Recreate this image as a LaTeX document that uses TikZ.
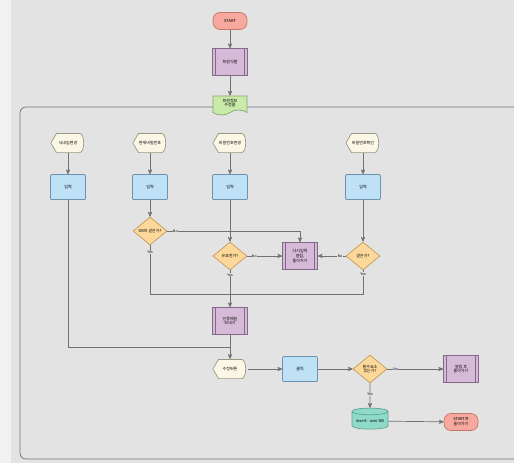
\documentclass[tikz,border=0pt]{standalone}
\usepackage{fontspec}
\setmainfont{Noto Sans CJK KR}
\usepackage{tikz}
\usetikzlibrary{positioning,arrows,shapes.geometric,shapes.symbols}
\definecolor{bgc}{HTML}{E3E3E3}
\definecolor{stripc}{HTML}{F1F1F1}
\definecolor{linec}{HTML}{727272}
\definecolor{termfill}{HTML}{F8A99F}
\definecolor{termline}{HTML}{C4766C}
\definecolor{procfill}{HTML}{D6BBD8}
\definecolor{procline}{HTML}{86698A}
\definecolor{docfill}{HTML}{C9EAA9}
\definecolor{docline}{HTML}{86A66C}
\definecolor{dispfill}{HTML}{FBF7E7}
\definecolor{displine}{HTML}{9C9680}
\definecolor{infill}{HTML}{BEE1F6}
\definecolor{inline}{HTML}{6D93B0}
\definecolor{decfill}{HTML}{FCD89A}
\definecolor{decline}{HTML}{C49B5C}
\definecolor{dbfill}{HTML}{8FDAC8}
\definecolor{dbline}{HTML}{5CA593}

\begin{document}
\begin{tikzpicture}[x=1pt,y=-1pt,font=\fontsize{4}{4.8}\selectfont]
    \tikzstyle{line}=[draw=linec,line width=0.7pt]
    \tikzstyle{arr}=[line,-stealth']
    \tikzstyle{term}=[draw=termline,fill=termfill,line width=0.7pt,rounded corners=7pt,minimum width=34pt,minimum height=17pt,inner sep=1pt,align=center]
    \tikzstyle{proc}=[draw=procline,fill=procfill,line width=0.7pt,minimum width=35pt,minimum height=27pt,inner sep=1pt,align=center,
        path picture={\draw[procline,line width=0.6pt]
            ([xshift=3pt]path picture bounding box.north west) -- ([xshift=3pt]path picture bounding box.south west)
            ([xshift=-3pt]path picture bounding box.north east) -- ([xshift=-3pt]path picture bounding box.south east);}]
    \tikzstyle{doc}=[tape,tape bend top=none,draw=docline,fill=docfill,line width=0.7pt,minimum width=34pt,minimum height=19pt,inner sep=1pt,align=center]
    \tikzstyle{disp}=[minimum width=35pt,minimum height=20pt,inner sep=0pt,align=center,
        path picture={\draw[displine,fill=dispfill,line width=0.7pt]
            ([xshift=0.4pt]path picture bounding box.west)
            -- ([xshift=6pt,yshift=-0.4pt]path picture bounding box.north west)
            -- ([xshift=-6pt,yshift=-0.4pt]path picture bounding box.north east)
            .. controls ([xshift=-0.4pt,yshift=-0.4pt]path picture bounding box.north east) and ([xshift=-0.4pt,yshift=0.4pt]path picture bounding box.south east) .. ([xshift=-6pt,yshift=0.4pt]path picture bounding box.south east)
            -- ([xshift=6pt,yshift=0.4pt]path picture bounding box.south west) -- cycle;}]
    \tikzstyle{inbox}=[draw=inline,fill=infill,line width=0.7pt,rounded corners=1pt,minimum width=35pt,minimum height=25pt,inner sep=1pt]
    \tikzstyle{dec}=[diamond,aspect=1.25,draw=decline,fill=decfill,line width=0.7pt,minimum width=34pt,minimum height=28pt,inner sep=0pt,align=center]
    \tikzstyle{store}=[cylinder,shape border rotate=90,aspect=0.22,draw=dbline,fill=dbfill,line width=0.7pt,minimum width=36pt,minimum height=21pt,inner sep=1pt]
    \tikzstyle{lbl}=[font=\fontsize{3.5}{4}\selectfont,inner sep=0.4pt,fill=bgc]

    % page and frame
    \useasboundingbox (0,0) rectangle (514,463);
    \fill[bgc] (0,0) rectangle (514,463);
    \fill[stripc] (0,0) rectangle (11,463);
    \draw[line,rounded corners=6pt] (20,107) rectangle (540,459);

    % top
    \node[term] (st) at (230,21) {START};
    \node[proc] (who) at (230,62) {회원식별};
    \node[doc] (form) at (230,103) {회원정보\\수정폼};

    % four fields
    \node[disp] (d1) at (68,143) {닉네임변경};
    \node[disp] (d2) at (150,143) {현재비밀번호};
    \node[disp] (d3) at (230,143) {비밀번호변경};
    \node[disp] (d4) at (363,143) {비밀번호확인};
    \foreach \i in {1,...,4}
        \node[inbox,below=21pt of d\i] (in\i) {입력};

    % checks
    \node[dec] (q1) at (150,231) {DB와 같은가?};
    \node[dec] (q2) at (230,256) {유효한가?};
    \node[dec] (q3) at (363,256) {같은가?};
    \node[proc] (retry) at (300,256) {다시입력\\알림,\\돌아가기};
    \node[proc] (mail) at (230,321) {인증메일\\보내기};
    \coordinate (yl) at (150,294);
    \coordinate (yr) at (363,294);
    \coordinate (join) at (230,347);

    % bottom row
    \node[disp] (btn) at (230,369) {수정버튼};
    \node[inbox] (click) at (300,369) {클릭};
    \node[dec] (q4) at (370,369) {필수요소\\있는가?};
    \node[proc] (warn) at (461,369) {알림 후\\돌아가기};
    \node[store] (db) at (370,421) {insert - user DB};
    \node[term] (back) at (461,422) {START로\\돌아가기};

    % flow
    \draw[arr] (st) -- (who);
    \draw[arr] (who) -- (form);
    \foreach \i in {1,...,4}
        \draw[arr] (d\i) -- (in\i);
    \draw[arr] (in2) -- (q1);
    \draw[arr] (in3) -- (q2);
    \draw[arr] (in4) -- (q3);
    \draw[arr] (q1.east) -| node[lbl,pos=0.03] (n1) {No} (retry);
    \draw[arr] (q2) -- node[lbl,pos=0.2] (n2) {No} (retry);
    \draw[arr] (q3) -- node[lbl,pos=0.2] (n3) {No} (retry);
    \draw[line] (q1.south) -- node[lbl,pos=0.15] (y1) {Yes} (yl) -- (yr) -- node[lbl,pos=0.85] (y3) {Yes} (q3.south);
    \draw[arr] (q2) -- node[lbl,pos=0.12] (y2) {Yes} (mail);
    \draw[line] (in1) |- (join);
    \draw[arr] (mail) -- (btn);
    \draw[arr] (btn) -- (click);
    \draw[arr] (click) -- (q4);
    \draw[arr] (q4) -- node[lbl,pos=0.15] (n4) {No} (warn);
    \draw[arr] (q4) -- node[lbl,pos=0.45] (y4) {Yes} (db);
    \draw[arr] (db) -- (back);
\end{tikzpicture}
\end{document}
